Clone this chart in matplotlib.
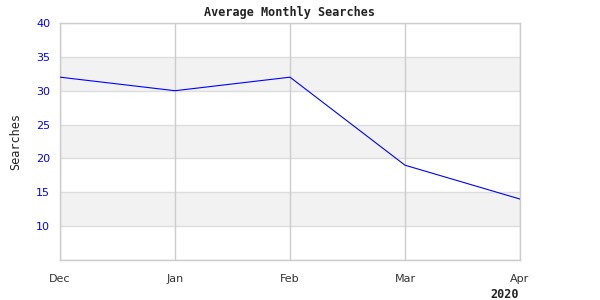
import matplotlib
matplotlib.use("Agg")
import matplotlib.pyplot as plt

months = ["Dec", "Jan", "Feb", "Mar", "Apr"]
searches = [32, 30, 32, 19, 14]
y_ticks = [10, 15, 20, 25, 30, 35, 40]
year_label = "2020"

fig = plt.figure(figsize=(6, 3), dpi=100)
ax = fig.add_axes([60/600, 40/300, 460/600, 237/300])

x = list(range(len(months)))
ax.set_xlim(0, len(months) - 1)
ax.set_ylim(5, 40)

# alternating bands
for lo in range(5, 40, 5):
    if (lo // 5) % 2 == 0:
        ax.axhspan(lo, lo + 5, color="#f2f2f2", zorder=0, lw=0)

for yv in range(5, 41, 5):
    ax.axhline(yv, color="#dddddd", lw=1, zorder=1)
for xv in x:
    ax.axvline(xv, color="#cccccc", lw=1, zorder=1)

ax.plot(x, searches, color="#0000ff", lw=0.8, zorder=3)

ax.set_xticks(x)
ax.set_xticklabels(months)
ax.set_yticks(y_ticks)
ax.tick_params(axis="both", length=0, labelsize=8)
ax.tick_params(axis="x", colors="#333333", pad=10)
ax.tick_params(axis="y", colors="#0000ff", pad=7)
for s in ax.spines.values():
    s.set_color("#cccccc")
    s.set_linewidth(1)

ax.set_title("Average Monthly Searches", fontsize=8.5, family="DejaVu Sans Mono",
             fontweight="bold", color="#222222", pad=5)
ax.set_ylabel("Searches", fontsize=8.5, family="DejaVu Sans Mono", color="#222222", labelpad=10)
fig.text(505/600, 1 - 294/300, year_label, fontsize=8.5, family="DejaVu Sans Mono",
         fontweight="bold", color="#222222", ha="center", va="center")

fig.savefig("out.png", dpi=100, facecolor="white")
